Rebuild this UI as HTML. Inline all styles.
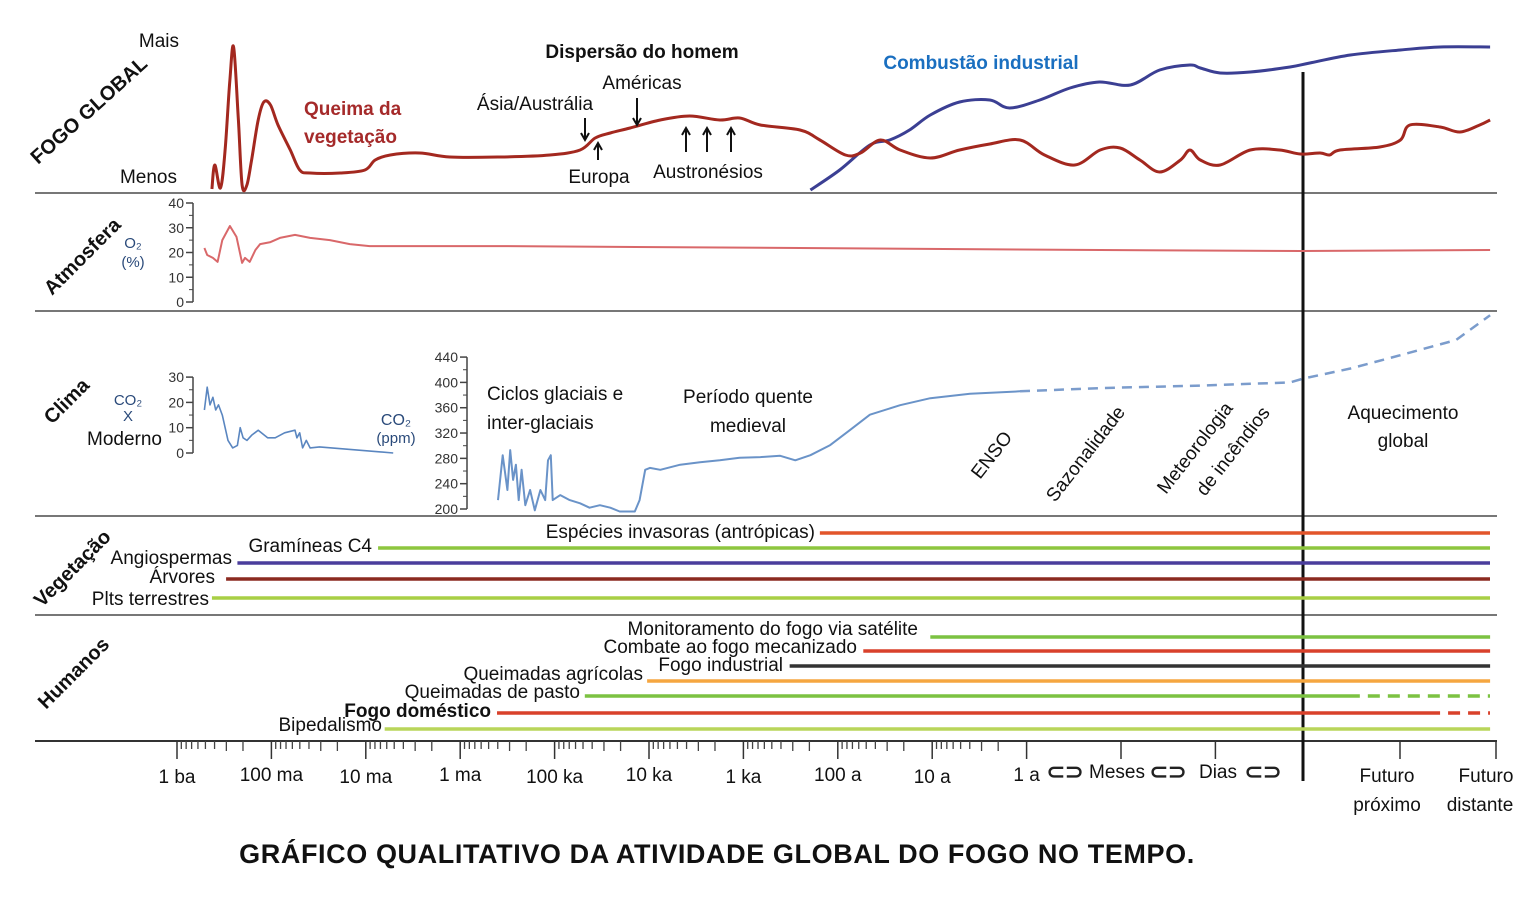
<!DOCTYPE html>
<html><head><meta charset="utf-8"><style>
body{margin:0;background:#fff;}
svg{display:block;font-family:"Liberation Sans",sans-serif;}
text{fill:#111;}
</style></head><body>
<svg id="c" width="1532" height="900" viewBox="0 0 1532 900" xmlns="http://www.w3.org/2000/svg">
<g id="grid">
<line x1="35" y1="193" x2="1497" y2="193" stroke="#777" stroke-width="2"/>
<line x1="35" y1="311" x2="1497" y2="311" stroke="#777" stroke-width="2"/>
<line x1="35" y1="516" x2="1497" y2="516" stroke="#777" stroke-width="2"/>
<line x1="35" y1="615" x2="1497" y2="615" stroke="#777" stroke-width="2"/>
<line x1="35" y1="741" x2="1497" y2="741" stroke="#333" stroke-width="2"/>
<line x1="1303" y1="72" x2="1303" y2="781" stroke="#111" stroke-width="3"/>
</g>
<g id="marks"></g>
<g id="ticks"></g>
<g font-size="19">
<text x="179" y="47" text-anchor="end">Mais</text>
<text x="177" y="183" text-anchor="end">Menos</text>
<text transform="translate(38,165) rotate(-42)" font-weight="bold" font-size="20">FOGO GLOBAL</text>
<text x="304" y="115" font-weight="bold" style="fill:#a52a2a">Queima da</text>
<text x="304" y="143" font-weight="bold" style="fill:#a52a2a">vegetação</text>
<text x="642" y="58" text-anchor="middle" font-weight="bold">Dispersão do homem</text>
<text x="642" y="89" text-anchor="middle">Américas</text>
<text x="535" y="110" text-anchor="middle">Ásia/Austrália</text>
<text x="599" y="183" text-anchor="middle">Europa</text>
<text x="708" y="178" text-anchor="middle">Austronésios</text>
<text x="981" y="69" text-anchor="middle" font-weight="bold" style="fill:#1a6fc0">Combustão industrial</text>
<text transform="translate(52,296) rotate(-45)" font-weight="bold" font-size="20">Atmosfera</text>
<text x="133" y="248" text-anchor="middle" font-size="15" style="fill:#2a4a7a">O₂</text>
<text x="133" y="267" text-anchor="middle" font-size="15" style="fill:#2a4a7a">(%)</text>
<text transform="translate(52,425) rotate(-45)" font-weight="bold" font-size="20">Clima</text>
<text x="128" y="405" text-anchor="middle" font-size="15" style="fill:#2a4a7a">CO₂</text>
<text x="128" y="421" text-anchor="middle" font-size="15" style="fill:#2a4a7a">X</text>
<text x="162" y="445" text-anchor="end">Moderno</text>
<text x="396" y="425" text-anchor="middle" font-size="16" style="fill:#2a4a7a">CO₂</text>
<text x="396" y="443" text-anchor="middle" font-size="15" style="fill:#2a4a7a">(ppm)</text>
<text x="487" y="400">Ciclos glaciais e</text>
<text x="487" y="429">inter-glaciais</text>
<text x="748" y="403" text-anchor="middle">Período quente</text>
<text x="748" y="432" text-anchor="middle">medieval</text>
<text transform="translate(980,480) rotate(-52)">ENSO</text>
<text transform="translate(1055,503) rotate(-52)">Sazonalidade</text>
<text transform="translate(1166,495) rotate(-52)">Meteorologia</text>
<text transform="translate(1205,497) rotate(-52)">de incêndios</text>
<text x="1403" y="419" text-anchor="middle">Aquecimento</text>
<text x="1403" y="447" text-anchor="middle">global</text>
<text transform="translate(42,608) rotate(-45)" font-weight="bold" font-size="20">Vegetação</text>
<text transform="translate(46,710) rotate(-45)" font-weight="bold" font-size="20">Humanos</text>
<text x="815" y="538" text-anchor="end">Espécies invasoras (antrópicas)</text>
<text x="372" y="552" text-anchor="end">Gramíneas C4</text>
<text x="232" y="564" text-anchor="end">Angiospermas</text>
<text x="215" y="583" text-anchor="end">Árvores</text>
<text x="209" y="605" text-anchor="end">Plts terrestres</text>
<text x="918" y="635" text-anchor="end">Monitoramento do fogo via satélite</text>
<text x="857" y="653" text-anchor="end">Combate ao fogo mecanizado</text>
<text x="783" y="671" text-anchor="end">Fogo industrial</text>
<text x="643" y="680" text-anchor="end">Queimadas agrícolas</text>
<text x="580" y="698" text-anchor="end">Queimadas de pasto</text>
<text x="491" y="717" text-anchor="end" font-weight="bold">Fogo doméstico</text>
<text x="382" y="731" text-anchor="end">Bipedalismo</text>
<text x="717" y="863" text-anchor="middle" font-weight="bold" font-size="27" letter-spacing="0.6">GRÁFICO QUALITATIVO DA  ATIVIDADE GLOBAL DO FOGO NO TEMPO.</text>
</g>
</svg>
<script>
// time axis: decade index (0 = 1 bilhão de anos atrás ... 13.9 = futuro distante)
const tickLabels=["1 ba","100 ma","10 ma","1 ma","100 ka","10 ka","1 ka","100 a","10 a","1 a"];
const fireU=[0.37,0.40,0.46,0.51,0.56,0.60,0.65,0.69,0.74,0.79,0.86,0.92,0.99,1.07,1.20,1.30,1.41,1.73,1.99,2.10,2.26,2.57,2.89,3.42,3.95,4.27,4.43,4.59,4.80,5.12,5.43,5.75,5.96,6.18,6.60,6.81,7.08,7.24,7.45,7.66,7.98,8.29,8.61,8.93,9.19,9.51,9.78,9.99,10.20,10.41,10.63,10.73,10.84,11.05,11.37,11.68,11.90,12.11,12.21,12.32,12.74,12.96,13.06,13.38,13.59,13.80,13.91];
const fireV=[0,24,1,39,109,142,69,4,4,29,69,87,84,64,39,19,16,16,19,29,34,36,32,32,34,39,51,56,61,69,73,69,71,64,59,49,34,36,49,39,31,39,45,49,34,24,39,41,29,17,29,39,29,24,39,39,35,36,34,39,42,49,64,62,57,64,69];
const indU=[6.71,7.02,7.34,7.55,7.76,7.98,8.29,8.61,8.82,9.14,9.46,9.77,10.10,10.41,10.73,10.84,11.05,11.37,11.79,12.00,12.43,12.96,13.38,13.91];
const indV=[-1,19,44,49,59,74,87,89,81,89,101,107,104,119,124,121,116,117,122,126,134,139,142,142];
const o2U=[0.29,0.32,0.38,0.43,0.48,0.56,0.63,0.69,0.72,0.77,0.83,0.88,0.99,1.09,1.25,1.41,1.62,1.83,2.04,3.42,6.60,9.78,11.90,13.91];
const o2V=[21.8,19,17.8,16.2,25,30.7,26.3,15.8,17.8,16.2,21,23.4,24.2,25.9,27.1,25.9,25,23.4,22.6,22.6,21.8,21,20.6,21];
const o2Ticks=[0,10,20,30,40];
const ratioU=[0.29,0.32,0.35,0.38,0.41,0.44,0.48,0.54,0.59,0.64,0.67,0.70,0.74,0.79,0.86,0.96,1.04,1.14,1.25,1.27,1.30,1.33,1.37,1.41,1.51,2.29];
const ratioV=[17,26,19,22,17,19,15,5,2,3,10,6,5,7,9,6,6,8,9,6,8,2,5,2,2.4,0];
const ratioTicks=[0,10,20,30];
const ppmU=[3.40,3.45,3.50,3.53,3.56,3.59,3.62,3.65,3.69,3.74,3.79,3.85,3.90,3.93,3.96,3.98,4.06,4.16,4.27,4.37,4.48,4.59,4.69,4.85,4.90,4.96,5.01,5.12,5.33,5.54,5.75,5.96,6.18,6.39,6.55,6.71,6.92,7.13,7.34,7.66,7.98,8.40,8.93];
const ppmV=[214,285,230,293,246,270,214,262,206,230,198,230,214,277,285,214,222,214,209,202,206,202,196,196,214,262,265,262,270,274,277,281,282,284,277,285,301,325,349,364,375,382,386];
const ppmProjU=[8.93,9.78,10.84,11.79,11.93,12.43,12.96,13.55,13.91];
const ppmProjV=[386,391,395,400,406,422,443,467,506];
const ppmTicks=[200,240,280,320,360,400,440];
const vegNames=["invasive-species","c4-grasses","angiosperms","trees","land-plants"];
const vegStart=[6.81,2.13,0.64,0.52,0.37];
const vegColors=["#e2552b","#8dc63f","#4a3d9c","#8b2a20","#a8cf45"];
const humNames=["satellite-monitoring","mechanized-firefighting","industrial-fire","agricultural-burning","pasture-burning","domestic-fire","bipedalism"];
const humStart=[7.98,7.27,6.49,4.98,4.32,3.39,2.20];
const humDashFrom=[null,null,null,null,12.53,13.38,null];
const humColors=["#7cc242","#d9412b","#333333","#f5a640","#7cc242","#d9412b","#b9d55a"];

const NS="http://www.w3.org/2000/svg";
const marks=document.getElementById('marks'), ticksG=document.getElementById('ticks');
const X=u=>177+u*94.4;
const yFire=v=>189-v;
const yO2=v=>302-v*2.475;
const yRatio=v=>453-v*2.53;
const yPpm=v=>509-(v-200)*0.633;
const END=13.91;
function smooth(pts){let d=`M${pts[0][0]},${pts[0][1]}`;for(let i=0;i<pts.length-1;i++){const p0=pts[i-1]||pts[i],p1=pts[i],p2=pts[i+1],p3=pts[i+2]||p2;const c1=[p1[0]+(p2[0]-p0[0])/6,p1[1]+(p2[1]-p0[1])/6],c2=[p2[0]-(p3[0]-p1[0])/6,p2[1]-(p3[1]-p1[1])/6];d+=` C${c1[0].toFixed(1)},${c1[1].toFixed(1)} ${c2[0].toFixed(1)},${c2[1].toFixed(1)} ${p2[0].toFixed(1)},${p2[1].toFixed(1)}`;}return d;}
function mk(tag,attrs,parent){const e=document.createElementNS(NS,tag);for(const k in attrs)e.setAttribute(k,attrs[k]);(parent||marks).appendChild(e);return e;}
function series(U,V,ys,stroke,w,name,dash,sm){const pts=U.map((u,i)=>[X(u),ys(V[i])]);const d=sm?smooth(pts):'M'+pts.map(p=>p[0].toFixed(1)+','+p[1].toFixed(1)).join(' L');const p=mk('path',{d:d,fill:'none',stroke:stroke,'stroke-width':w,'stroke-linejoin':'round'});if(dash)p.setAttribute('stroke-dasharray',dash);


return p;}
series(indU,indV,yFire,'#3b3f93',3,'industrial-combustion-line',null,true);
series(fireU,fireV,yFire,'#a3281f',3,'vegetation-burning-line',null,true);
series(o2U,o2V,yO2,'#d9686a',2,'o2-line');
series(ratioU,ratioV,yRatio,'#5a86c0',1.6,'co2-ratio-line');
series(ppmU,ppmV,yPpm,'#6a93c8',2,'co2-ppm-line');
series(ppmProjU,ppmProjV,yPpm,'#7b9ccc',2.5,'co2-ppm-projection','10,7');
function yaxis(ticks,ys,x,name){const g=mk('g',{});


mk('line',{x1:x,y1:ys(ticks[ticks.length-1]),x2:x,y2:ys(ticks[0]),stroke:'#444','stroke-width':1.5},g);
for(let i=0;i<ticks.length;i++){const y=ys(ticks[i]);mk('line',{x1:x-7,y1:y,x2:x,y2:y,stroke:'#444','stroke-width':1.5},g);if(i<ticks.length-1){const y2=(y+ys(ticks[i+1]))/2;mk('line',{x1:x-4,y1:y2,x2:x,y2:y2,stroke:'#444'},g);}
const t=mk('text',{x:x-9,y:y+5,'text-anchor':'end','font-size':14,style:'fill:#333'},g);t.textContent=ticks[i];

}}
yaxis(o2Ticks,yO2,193,'o2-y-axis');
yaxis(ratioTicks,yRatio,193,'co2-ratio-y-axis');
yaxis(ppmTicks,yPpm,467,'co2-ppm-y-axis');
[[585,118,140],[637,98,125],[598,160,143],[686,152,128],[707,152,128],[731,152,128]].forEach(a=>{const g=mk('g',{});


mk('line',{x1:a[0],y1:a[1],x2:a[0],y2:a[2],stroke:'#111','stroke-width':2},g);const d=a[2]>a[1]?1:-1;mk('path',{d:`M${a[0]-4},${a[2]-d*7} L${a[0]},${a[2]} L${a[0]+4},${a[2]-d*7}`,fill:'none',stroke:'#111','stroke-width':2},g);});
const vegY=[533,548,563,579,598];
vegStart.forEach((s,i)=>{const l=mk('line',{x1:X(s),y1:vegY[i],x2:1490,y2:vegY[i],stroke:vegColors[i],'stroke-width':3.5});

});
const humY=[637,651,666,681,696,713,729];
humStart.forEach((s,i)=>{const e=humDashFrom[i]==null?END:humDashFrom[i];const l=mk('line',{x1:X(s),y1:humY[i],x2:X(e),y2:humY[i],stroke:humColors[i],'stroke-width':3.5});


if(humDashFrom[i]!=null){const d=mk('line',{x1:X(e)+8,y1:humY[i],x2:1490,y2:humY[i],stroke:humColors[i],'stroke-width':3.5,'stroke-dasharray':'12,8'});

}});
const minorM=[9,8,7,6,5,4,3,2];
for(let i=0;i<tickLabels.length;i++){const x=X(i);mk('line',{x1:x,y1:741,x2:x,y2:759,stroke:'#333','stroke-width':1.5},ticksG);
if(i<9){minorM.forEach(m=>{const mx=X(i)+94.4*Math.log10(10/m);mk('line',{x1:mx,y1:741,x2:mx,y2:m<=3?751:749,stroke:'#444','stroke-width':1.3},ticksG);});}
const t=mk('text',{x:x,y:i%2? 781:783,'text-anchor':'middle','font-size':19},ticksG);t.textContent=tickLabels[i];

}
[10,11,13.0,14.0].forEach(u=>{const x=u>=13?(u==13?1400:1496):X(u);mk('line',{x1:x,y1:741,x2:x,y2:759,stroke:'#333','stroke-width':1.5},ticksG);});
[["Meses",1117],["Dias",1218]].forEach(a=>{const t=mk('text',{x:a[1],y:778,'text-anchor':'middle','font-size':19},ticksG);t.textContent=a[0];

});
[1065,1168,1263].forEach(x=>{const t=mk('text',{x:x,y:779,'text-anchor':'middle','font-size':22,'font-weight':'bold',style:'fill:#222'},ticksG);t.textContent='⊂⊃';

});
[["Futuro",1387,782],["próximo",1387,811],["Futuro",1486,782],["distante",1480,811]].forEach(a=>{const t=mk('text',{x:a[1],y:a[2],'text-anchor':'middle','font-size':19},ticksG);t.textContent=a[0];

});
</script>
</body></html>
